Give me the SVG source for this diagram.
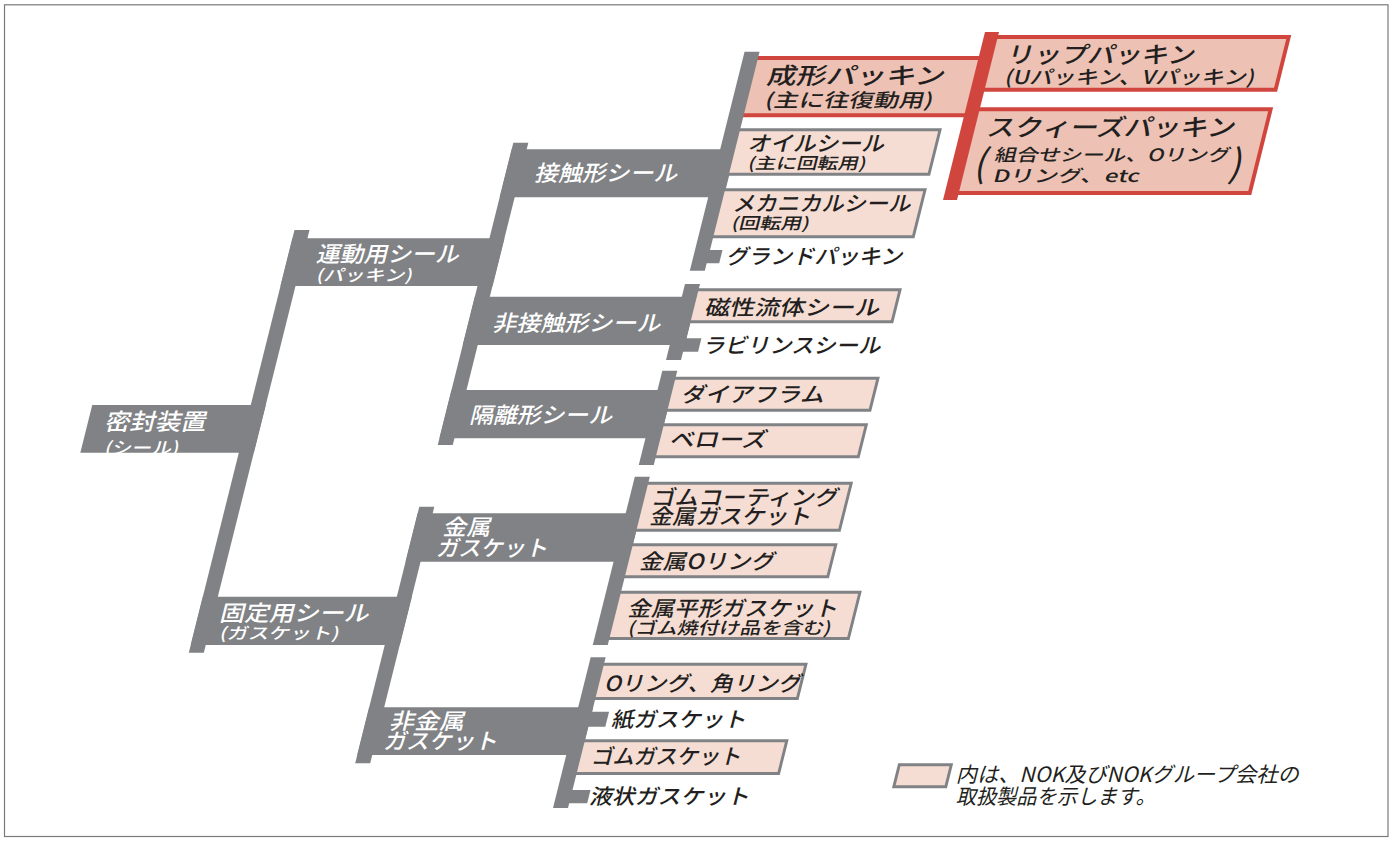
<svg xmlns="http://www.w3.org/2000/svg" width="1391" height="843" viewBox="0 0 1391 843">
<style>
.bar{fill:#808285}
.leaf{fill:#f6ddd4;stroke:#808285;stroke-width:3}
.red{fill:#edc2b4;stroke:#d1453f;stroke-width:4}
.rbar{fill:#d1453f}
text{font-family:"Noto Sans CJK JP","Noto Sans",sans-serif;font-weight:500}
.w{fill:#ffffff}
.k{fill:#231f20}
.L{font-size:22px}.R{font-size:23px}.M{font-size:21px}.sub{font-size:16px}.sub2{font-size:17px}.sub3{font-size:19px}
</style>
<rect x="4.5" y="4.8" width="1383.5" height="831.7" fill="none" stroke="#7a7a7a" stroke-width="1.2"/>
<g transform="skewX(-14.036)">
  <!-- nodes -->
  <g id="root">
    <rect class="bar" x="193.5" y="405" width="173.5" height="47.7"/>
    <text class="w R" x="211.5" y="430" textLength="101.5" lengthAdjust="spacingAndGlyphs">密封装置</text>
    <text class="w sub2" x="217.5" y="454" textLength="74" lengthAdjust="spacingAndGlyphs">(シール)</text>
  </g>
  <g id="undou">
    <rect class="bar" x="352" y="238.3" width="212" height="47.7"/>
    <text class="w L" x="381.3" y="262.5" textLength="143" lengthAdjust="spacingAndGlyphs">運動用シール</text>
    <text class="w sub" x="386" y="281" textLength="96" lengthAdjust="spacingAndGlyphs">(パッキン)</text>
  </g>
  <g id="kotei">
    <rect class="bar" x="352" y="596.7" width="209" height="48.3"/>
    <text class="w L" x="374.3" y="621" textLength="149.5" lengthAdjust="spacingAndGlyphs">固定用シール</text>
    <text class="w sub" x="378.8" y="639" textLength="119.5" lengthAdjust="spacingAndGlyphs">(ガスケット)</text>
  </g>
  <g id="sesshoku">
    <rect class="bar" x="549" y="149.3" width="224" height="48"/>
    <text class="w L" x="579.3" y="181" textLength="143" lengthAdjust="spacingAndGlyphs">接触形シール</text>
  </g>
  <g id="hisesshoku">
    <rect class="bar" x="549" y="296.7" width="222" height="48.3"/>
    <text class="w L" x="575" y="331" textLength="168" lengthAdjust="spacingAndGlyphs">非接触形シール</text>
  </g>
  <g id="kakuri">
    <rect class="bar" x="549" y="390" width="221" height="48.3"/>
    <text class="w L" x="574.8" y="423" textLength="143" lengthAdjust="spacingAndGlyphs">隔離形シール</text>
  </g>
  <g id="kinzoku">
    <rect class="bar" x="546" y="513.3" width="223" height="48.4"/>
    <text class="w L" x="576" y="535" textLength="48" lengthAdjust="spacingAndGlyphs">金属</text>
    <text class="w L" x="574.7" y="556" textLength="111.5" lengthAdjust="spacingAndGlyphs">ガスケット</text>
  </g>
  <g id="hikinzoku">
    <rect class="bar" x="546" y="707.3" width="224" height="47.7"/>
    <text class="w L" x="571.3" y="729" textLength="75" lengthAdjust="spacingAndGlyphs">非金属</text>
    <text class="w L" x="570.3" y="749" textLength="114" lengthAdjust="spacingAndGlyphs">ガスケット</text>
  </g>

  <g id="seikei">
    <rect class="red" x="765" y="58" width="232" height="57.3"/>
    <text class="k" x="786.8" y="84.5" textLength="178" lengthAdjust="spacingAndGlyphs" style="font-size:23px">成形パッキン</text>
    <text class="k sub3" x="790.8" y="107" textLength="168" lengthAdjust="spacingAndGlyphs">(主に往復動用)</text>
  </g>
  <g id="lip">
    <rect class="red" x="1003" y="37" width="295" height="52.7"/>
    <text class="k" x="1021.5" y="63" textLength="188" lengthAdjust="spacingAndGlyphs" style="font-size:23px">リップパッキン</text>
    <text class="k sub3" x="1025" y="84" textLength="250" lengthAdjust="spacingAndGlyphs">(Uパッキン、Vパッキン)</text>
  </g>
  <g id="squeeze">
    <rect class="red" x="1003" y="109.3" width="295" height="83.7"/>
    <text class="k" x="1019.7" y="136" textLength="248" lengthAdjust="spacingAndGlyphs" style="font-size:24px">スクィーズパッキン</text>
    <text class="k" x="1017" y="177" style="font-size:38px;font-weight:400">(</text>
    <text class="k sub2" x="1034.3" y="161" textLength="235" lengthAdjust="spacingAndGlyphs">組合せシール、Oリング</text>
    <text class="k sub2" x="1037.8" y="182" textLength="146.5" lengthAdjust="spacingAndGlyphs">Dリング、etc</text>
    <text class="k" x="1272" y="177" style="font-size:38px;font-weight:400">)</text>
  </g>
  <g id="oilseal">
    <rect class="leaf" x="768" y="129.8" width="204.5" height="44.4"/>
    <text class="k M" x="785" y="151" textLength="136.5" lengthAdjust="spacingAndGlyphs">オイルシール</text>
    <text class="k sub" x="789.5" y="169" textLength="118" lengthAdjust="spacingAndGlyphs">(主に回転用)</text>
  </g>
  <g id="mechanical">
    <rect class="leaf" x="768" y="189.8" width="204.5" height="47"/>
    <text class="k M" x="785" y="211" textLength="178" lengthAdjust="spacingAndGlyphs">メカニカルシール</text>
    <text class="k sub" x="788" y="229" textLength="78" lengthAdjust="spacingAndGlyphs">(回転用)</text>
  </g>
  <g id="gland">
    <rect class="bar" x="770" y="250" width="15" height="13.3"/>
    <text class="k M" x="791.7" y="264" textLength="176.5" lengthAdjust="spacingAndGlyphs">グランドパッキン</text>
  </g>
  <g id="jisei">
    <rect class="leaf" x="766" y="289.8" width="206.5" height="32"/>
    <text class="k M" x="782.8" y="315" textLength="175" lengthAdjust="spacingAndGlyphs">磁性流体シール</text>
  </g>
  <g id="labyrinth">
    <rect class="bar" x="769" y="338.3" width="17" height="13.4"/>
    <text class="k M" x="790.5" y="353" textLength="178" lengthAdjust="spacingAndGlyphs">ラビリンスシール</text>
  </g>
  <g id="diaphragm">
    <rect class="leaf" x="765" y="378.2" width="207.5" height="32"/>
    <text class="k M" x="781.2" y="402" textLength="143" lengthAdjust="spacingAndGlyphs">ダイアフラム</text>
  </g>
  <g id="bellows">
    <rect class="leaf" x="765" y="424.8" width="207.5" height="32"/>
    <text class="k M" x="780.8" y="447" textLength="96.5" lengthAdjust="spacingAndGlyphs">ベローズ</text>
  </g>
  <g id="rubbercoat">
    <rect class="leaf" x="765" y="483.2" width="207" height="47"/>
    <text class="k M" x="777" y="505" textLength="186.5" lengthAdjust="spacingAndGlyphs">ゴムコーティング</text>
    <text class="k M" x="780" y="524" textLength="161.5" lengthAdjust="spacingAndGlyphs">金属ガスケット</text>
  </g>
  <g id="metaloring">
    <rect class="leaf" x="765" y="544.8" width="207" height="32"/>
    <text class="k M" x="781.3" y="569" textLength="135" lengthAdjust="spacingAndGlyphs">金属Oリング</text>
  </g>
  <g id="metalflat">
    <rect class="leaf" x="765" y="592.2" width="243" height="46.3"/>
    <text class="k M" x="781.3" y="616" textLength="210" lengthAdjust="spacingAndGlyphs">金属平形ガスケット</text>
    <text class="k sub2" x="785.8" y="634" textLength="203" lengthAdjust="spacingAndGlyphs">(ゴム焼付け品を含む)</text>
  </g>
  <g id="oring">
    <rect class="leaf" x="766" y="664.2" width="206" height="34.3"/>
    <text class="k M" x="776.8" y="691" textLength="196.5" lengthAdjust="spacingAndGlyphs">Oリング、角リング</text>
  </g>
  <g id="paper">
    <rect class="bar" x="769" y="711.7" width="18" height="15"/>
    <text class="k M" x="792.5" y="727" textLength="135" lengthAdjust="spacingAndGlyphs">紙ガスケット</text>
  </g>
  <g id="rubbergasket">
    <rect class="leaf" x="766" y="740.8" width="206" height="32.7"/>
    <text class="k M" x="781.7" y="764" textLength="150" lengthAdjust="spacingAndGlyphs">ゴムガスケット</text>
  </g>
  <g id="liquid">
    <rect class="bar" x="769" y="790" width="19" height="13.3"/>
    <text class="k M" x="790" y="804" textLength="160" lengthAdjust="spacingAndGlyphs">液状ガスケット</text>
  </g>
  <g id="legend">
    <rect class="leaf" x="1090.5" y="764.8" width="52" height="22"/>
    <text class="k M" x="1151.2" y="782" textLength="343" lengthAdjust="spacingAndGlyphs" style="font-weight:400">内は、NOK及びNOKグループ会社の</text>
    <text class="k M" x="1156.7" y="804" textLength="200" lengthAdjust="spacingAndGlyphs" style="font-weight:400">取扱製品を示します。</text>
  </g>

  <!-- connectors -->
  <g id="connectors">
    <rect class="bar" x="352" y="230" width="15" height="422.7"/>
    <rect class="bar" x="549" y="142.7" width="15" height="302.3"/>
    <rect class="bar" x="546" y="506.7" width="15" height="256.6"/>
    <rect class="bar" x="757.5" y="51.7" width="15" height="219"/>
    <rect class="bar" x="756" y="284" width="15" height="76"/>
    <rect class="bar" x="755" y="370.7" width="15" height="94.3"/>
    <rect class="bar" x="754" y="476.7" width="15" height="168.3"/>
    <rect class="bar" x="755" y="657.3" width="15" height="150.7"/>
    <rect class="rbar" x="993" y="32" width="14" height="168"/>
  </g>
</g>
</svg>
